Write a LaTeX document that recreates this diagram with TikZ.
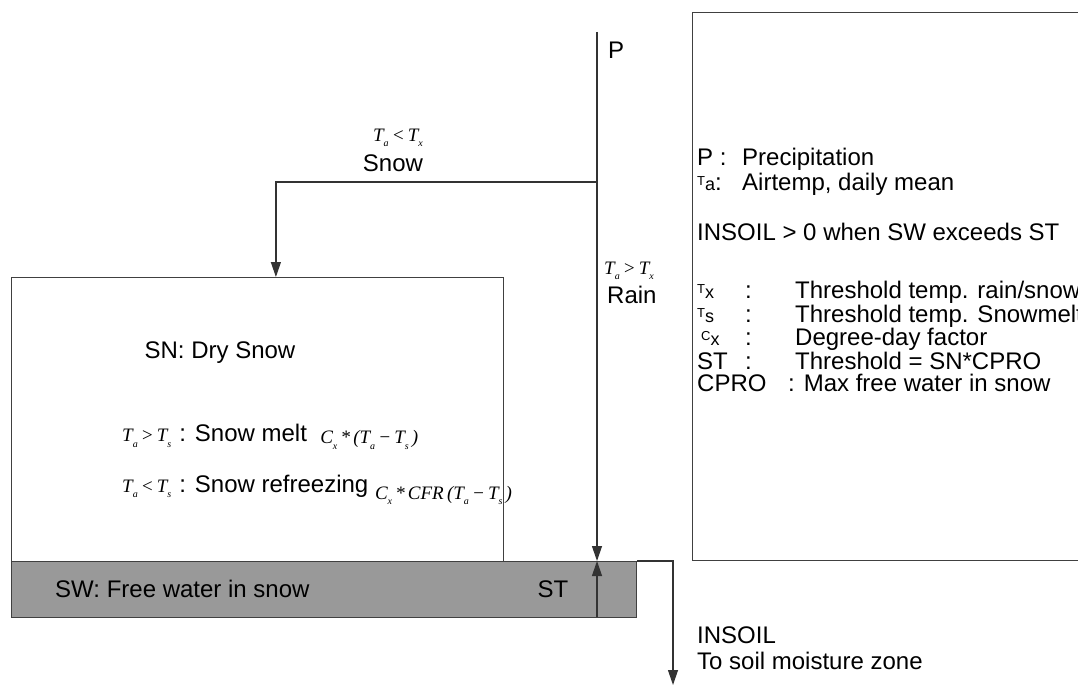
\documentclass[tikz,border=0pt]{standalone}
\usepackage{fontspec}
\setmainfont{Liberation Sans}
\newfontfamily\tms{Liberation Serif}
\usetikzlibrary{arrows.meta,positioning,calc}
% small lowered index for the formula labels
\newcommand{\lowsub}[1]{\raisebox{-0.3em}[0pt][0pt]{\fontsize{10}{10}\selectfont #1}}
\newcommand{\mth}[1]{{\tms\itshape\fontsize{19}{19}\selectfont #1}}
% sans symbols of the legend: small raised letter, index on the baseline
\newcommand{\legsym}[2]{\raisebox{0.2em}{\fontsize{13}{13}\selectfont #1}{\fontsize{18}{18}\selectfont #2}}
\begin{document}
\begin{tikzpicture}[x=1pt,y=-1pt,
  every node/.style={font=\fontsize{24}{26}\selectfont, inner sep=0pt},
  boxline/.style={draw=black!75, line width=1.3pt},
  flow/.style={draw=black!80, line width=1.2pt, -{Triangle[width=10pt,length=15pt]}},
  txt/.style={anchor=west},
  legrow/.style={anchor=base west},
]
\useasboundingbox (0,0) rectangle (1078,687);

% storage boxes
\node[boxline, anchor=north west, minimum width=492pt, minimum height=284pt] (sn) at (11,277) {};
\node[boxline, fill=black!40, anchor=north west, minimum width=625pt, minimum height=56pt] (sw) at (11,561) {};
\node[boxline, anchor=north west, minimum width=400pt, minimum height=548pt] (legend) at (692,12) {};

% flow path coordinates
\coordinate (ptop) at (597,32);
\coordinate (split) at (597,182);
\coordinate (corner) at (673,561);
\coordinate (soil) at (673,685);
\coordinate (stbase) at (597,617);

% precipitation and its split into snow and rain
\draw[flow] (ptop) -- (ptop |- sw.north);
\draw[flow] (split) -| ($(sn.north west)!0.537!(sn.north east)$);
\draw[flow] (stbase) -- (stbase |- sw.north);
\draw[flow] (sw.north east) -- (corner) -- (soil);

% flow labels
\node[txt] (plab) at (608,50) {P};
\node (snowcond) at (398,135) {\mth{T\lowsub{a}\,<\,T\lowsub{x}}};
\node (snowlab) at (393,163) {Snow};
\node[txt] (raincond) at (604,268) {\mth{T\lowsub{a}\,>\,T\lowsub{x}}};
\node[txt] (rainlab) at (607,295) {Rain};

% dry snow store
\node (sntitle) at (220,353) {SN: Dry Snow};
\node[txt] (melt) at (122,436) {\mth{T\lowsub{a}\,>\,T\lowsub{s}}\,\,: Snow melt\ \ \raisebox{-0.1em}{\mth{C\lowsub{x}\,*\,(T\lowsub{a}\,−\,T\lowsub{s}\,)}}};
\node[txt] (refr) at (122,489) {\mth{T\lowsub{a}\,<\,T\lowsub{s}}\,\,: Snow refreezing \raisebox{-0.3em}{\mth{C\lowsub{x}\,*\,CFR\,(T\lowsub{a}\,−\,T\lowsub{s}\,)}}};

% free water store
\node[txt] (swlab) at (55,589) {SW: Free water in snow};
\node (stlab) at (553,589) {ST};

% outflow label
\node[txt] (insoil) at (697,635) {INSOIL};
\node[txt] (tosoil) at (697,661) {To soil moisture zone};

% legend (baselines)
\node[legrow] (l1) at (697,166) {P :};
\node[legrow] (l1t) at (742,166) {Precipitation};
\node[legrow] (l2) at (697,190) {\legsym{T}{a}:};
\node[legrow] (l2t) at (742,190) {Airtemp, daily mean};
\node[legrow] (l3) at (697,240) {INSOIL > 0 when SW exceeds ST};
\node[legrow] (l4a) at (697,298) {\legsym{T}{x}};
\node[legrow] (l5a) at (697,322) {\legsym{T}{s}};
\node[legrow] (l6a) at (701,345) {\legsym{C}{x}};
\node[legrow] (l7a) at (697,369) {ST};
\node[legrow] (l8a) at (697,391) {CPRO};
\foreach \y/\n in {298/4,322/5,345/6,369/7} \node[legrow] (c\n) at (745,\y) {:};
\node[legrow] (l4) at (795,298) {Threshold temp. rain/snow};
\node[legrow] (l5) at (795,322) {Threshold temp. Snowmelt};
\node[legrow] (l6) at (795,345) {Degree-day factor};
\node[legrow] (l7) at (795,369) {Threshold = SN*CPRO};
\node[legrow] (l8) at (788,391) {: Max free water in snow};
\end{tikzpicture}
\end{document}
